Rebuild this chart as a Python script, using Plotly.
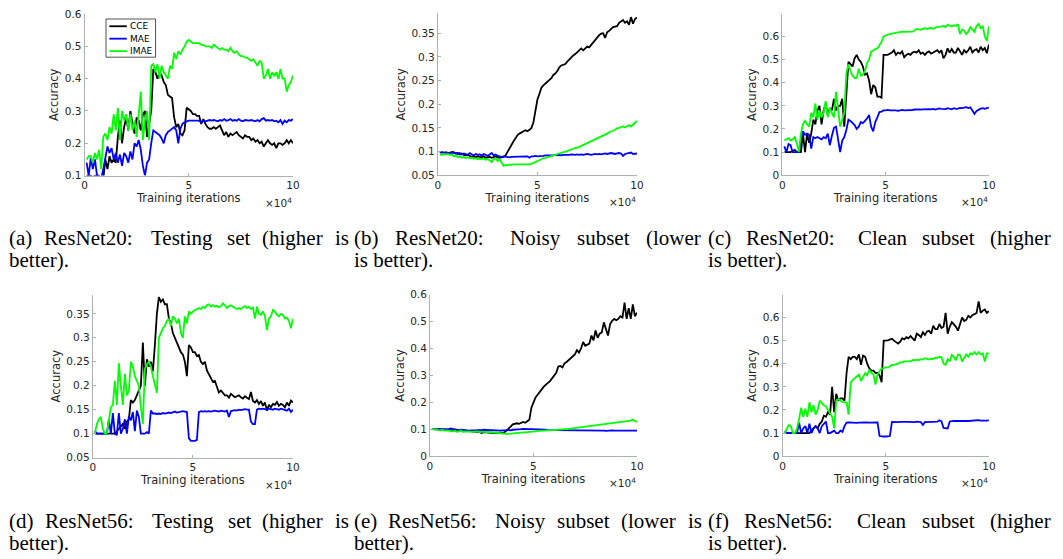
import plotly.graph_objects as go

# ---------------- data ----------------
# training iterations in units of 1e4, logged every 1000 iterations
ITERS = [i / 10 for i in range(1, 101)]

SERIES_NAMES = ["CCE", "MAE", "IMAE"]
SERIES_COLORS = ["#000000", "#0000ff", "#00ff00"]

# (a) ResNet20 testing set
A_CCE = [0.10, 0.10, 0.10, 0.095, 0.10, 0.10, 0.09, 0.08, 0.09, 0.15,
         0.12, 0.16, 0.14, 0.15, 0.14, 0.22, 0.27, 0.20, 0.25, 0.28,
         0.24, 0.30, 0.26, 0.23, 0.28, 0.27, 0.24, 0.29, 0.30, 0.22,
         0.26, 0.30, 0.43, 0.42, 0.40, 0.42, 0.41, 0.39, 0.38, 0.35,
         0.345, 0.34, 0.28, 0.25, 0.26, 0.23, 0.225, 0.24, 0.31, 0.305,
         0.30, 0.29, 0.29, 0.285, 0.285, 0.26, 0.275, 0.26, 0.25, 0.245,
         0.245, 0.25, 0.245, 0.25, 0.255, 0.24, 0.225, 0.235, 0.22, 0.23,
         0.225, 0.23, 0.235, 0.225, 0.22, 0.215, 0.225, 0.22, 0.22, 0.21,
         0.215, 0.205, 0.21, 0.20, 0.205, 0.19, 0.20, 0.21, 0.20, 0.195,
         0.20, 0.185, 0.20, 0.20, 0.195, 0.20, 0.21, 0.20, 0.21, 0.20]
A_MAE = [0.14, 0.10, 0.155, 0.12, 0.15, 0.10, 0.10, 0.09, 0.12, 0.16,
         0.19, 0.17, 0.185, 0.15, 0.17, 0.14, 0.165, 0.13, 0.17, 0.16,
         0.14, 0.175, 0.15, 0.20, 0.19, 0.21, 0.18, 0.13, 0.10, 0.14,
         0.15, 0.20, 0.24, 0.235, 0.23, 0.225, 0.215, 0.20, 0.225, 0.235,
         0.24, 0.245, 0.25, 0.24, 0.20, 0.245, 0.26, 0.265, 0.268, 0.27,
         0.27, 0.27, 0.268, 0.27, 0.27, 0.265, 0.27, 0.268, 0.27, 0.272,
         0.27, 0.272, 0.27, 0.268, 0.272, 0.27, 0.275, 0.27, 0.272, 0.275,
         0.27, 0.272, 0.27, 0.275, 0.27, 0.268, 0.272, 0.27, 0.27, 0.272,
         0.27, 0.268, 0.272, 0.268, 0.275, 0.278, 0.27, 0.272, 0.27, 0.272,
         0.268, 0.27, 0.265, 0.272, 0.26, 0.27, 0.265, 0.272, 0.27, 0.275]
A_IMAE = [0.15, 0.16, 0.16, 0.14, 0.17, 0.15, 0.18, 0.12, 0.22, 0.23,
          0.21, 0.25, 0.23, 0.29, 0.24, 0.31, 0.21, 0.30, 0.27, 0.29,
          0.24, 0.29, 0.24, 0.27, 0.22, 0.28, 0.36, 0.21, 0.27, 0.30,
          0.21, 0.44, 0.445, 0.42, 0.445, 0.40, 0.44, 0.42, 0.41, 0.40,
          0.44, 0.43, 0.48, 0.46, 0.485, 0.475, 0.49, 0.50, 0.515, 0.52,
          0.515, 0.51, 0.51, 0.51, 0.51, 0.505, 0.505, 0.50, 0.50, 0.50,
          0.495, 0.505, 0.50, 0.495, 0.49, 0.495, 0.49, 0.49, 0.485, 0.495,
          0.485, 0.48, 0.485, 0.475, 0.47, 0.47, 0.465, 0.465, 0.46, 0.455,
          0.46, 0.45, 0.44, 0.455, 0.45, 0.40, 0.41, 0.43, 0.40, 0.42,
          0.41, 0.42, 0.40, 0.43, 0.40, 0.40, 0.36, 0.38, 0.39, 0.41]

# (b) ResNet20 noisy subset
B_CCE = [0.099, 0.098, 0.098, 0.097, 0.098, 0.097, 0.099, 0.097, 0.096, 0.097,
         0.094, 0.096, 0.093, 0.092, 0.093, 0.091, 0.089, 0.090, 0.088, 0.090,
         0.089, 0.088, 0.090, 0.087, 0.088, 0.089, 0.087, 0.088, 0.090, 0.088,
         0.087, 0.088, 0.089, 0.092, 0.100, 0.106, 0.115, 0.122, 0.128, 0.135,
         0.138, 0.141, 0.143, 0.145, 0.143, 0.146, 0.150, 0.162, 0.19, 0.21,
         0.222, 0.235, 0.240, 0.244, 0.246, 0.250, 0.255, 0.262, 0.265, 0.270,
         0.278, 0.282, 0.284, 0.285, 0.290, 0.295, 0.298, 0.303, 0.306, 0.310,
         0.316, 0.318, 0.314, 0.318, 0.322, 0.320, 0.325, 0.330, 0.336, 0.342,
         0.346, 0.349, 0.350, 0.340, 0.352, 0.355, 0.360, 0.363, 0.364, 0.365,
         0.372, 0.376, 0.378, 0.372, 0.375, 0.368, 0.384, 0.370, 0.380, 0.383]
B_MAE = [0.098, 0.099, 0.098, 0.099, 0.097, 0.098, 0.097, 0.099, 0.096, 0.095,
         0.097, 0.094, 0.096, 0.095, 0.093, 0.097, 0.094, 0.092, 0.095, 0.093,
         0.094, 0.092, 0.095, 0.093, 0.091, 0.094, 0.097, 0.092, 0.094, 0.091,
         0.090, 0.089, 0.090, 0.089, 0.089, 0.088, 0.089, 0.089, 0.090, 0.089,
         0.089, 0.090, 0.089, 0.090, 0.090, 0.087, 0.090, 0.090, 0.091, 0.090,
         0.090, 0.091, 0.091, 0.092, 0.092, 0.091, 0.092, 0.092, 0.093, 0.092,
         0.093, 0.092, 0.093, 0.093, 0.092, 0.093, 0.094, 0.093, 0.093, 0.094,
         0.093, 0.094, 0.093, 0.094, 0.095, 0.094, 0.093, 0.094, 0.095, 0.094,
         0.095, 0.094, 0.095, 0.096, 0.095, 0.096, 0.097, 0.096, 0.095, 0.096,
         0.097, 0.096, 0.091, 0.095, 0.096, 0.097, 0.098, 0.095, 0.096, 0.096]
B_IMAE = [0.094, 0.093, 0.095, 0.094, 0.095, 0.093, 0.094, 0.090, 0.092, 0.088,
          0.090, 0.087, 0.089, 0.086, 0.088, 0.086, 0.087, 0.085, 0.086, 0.084,
          0.085, 0.084, 0.086, 0.083, 0.084, 0.082, 0.078, 0.084, 0.086, 0.080,
          0.084, 0.078, 0.070, 0.072, 0.071, 0.073, 0.072, 0.073, 0.073, 0.072,
          0.073, 0.072, 0.073, 0.072, 0.072, 0.073, 0.074, 0.076, 0.079, 0.081,
          0.083, 0.085, 0.086, 0.087, 0.088, 0.090, 0.091, 0.092, 0.093, 0.095,
          0.096, 0.098, 0.099, 0.100, 0.101, 0.103, 0.104, 0.106, 0.108, 0.108,
          0.110, 0.112, 0.113, 0.115, 0.117, 0.119, 0.121, 0.123, 0.125, 0.127,
          0.129, 0.131, 0.134, 0.136, 0.138, 0.141, 0.142, 0.144, 0.146, 0.149,
          0.150, 0.151, 0.153, 0.151, 0.154, 0.156, 0.153, 0.158, 0.161, 0.165]

# (c) ResNet20 clean subset
C_CCE = [0.10, 0.10, 0.10, 0.10, 0.105, 0.11, 0.10, 0.10, 0.10, 0.18,
         0.10, 0.18, 0.14, 0.18, 0.24, 0.22, 0.28, 0.30, 0.22, 0.28,
         0.31, 0.26, 0.29, 0.28, 0.33, 0.28, 0.30, 0.30, 0.33, 0.21,
         0.33, 0.49, 0.48, 0.47, 0.505, 0.52, 0.50, 0.49, 0.47, 0.435,
         0.44, 0.41, 0.35, 0.39, 0.38, 0.34, 0.34, 0.335, 0.52, 0.52,
         0.52, 0.525, 0.53, 0.54, 0.52, 0.53, 0.525, 0.535, 0.51, 0.52,
         0.525, 0.52, 0.53, 0.534, 0.53, 0.54, 0.525, 0.53, 0.52, 0.53,
         0.535, 0.525, 0.53, 0.535, 0.54, 0.53, 0.54, 0.505, 0.52, 0.548,
         0.53, 0.545, 0.53, 0.53, 0.55, 0.535, 0.52, 0.54, 0.53, 0.54,
         0.555, 0.53, 0.54, 0.545, 0.53, 0.555, 0.54, 0.55, 0.527, 0.565]
C_MAE = [0.125, 0.10, 0.135, 0.13, 0.10, 0.10, 0.10, 0.10, 0.15, 0.19,
         0.175, 0.18, 0.175, 0.115, 0.165, 0.16, 0.165, 0.16, 0.155, 0.165,
         0.16, 0.18, 0.13, 0.17, 0.205, 0.21, 0.15, 0.10, 0.15, 0.165,
         0.195, 0.24, 0.235, 0.225, 0.217, 0.20, 0.21, 0.23, 0.225, 0.235,
         0.245, 0.26, 0.21, 0.19, 0.23, 0.25, 0.273, 0.275, 0.28, 0.28,
         0.282, 0.28, 0.28, 0.282, 0.28, 0.278, 0.28, 0.282, 0.28, 0.28,
         0.282, 0.28, 0.282, 0.284, 0.283, 0.285, 0.284, 0.285, 0.286, 0.285,
         0.286, 0.285, 0.287, 0.284, 0.286, 0.289, 0.287, 0.285, 0.286, 0.29,
         0.287, 0.285, 0.29, 0.287, 0.288, 0.291, 0.29, 0.292, 0.294, 0.29,
         0.293, 0.28, 0.265, 0.278, 0.285, 0.288, 0.29, 0.287, 0.29, 0.292]
C_IMAE = [0.15, 0.155, 0.16, 0.15, 0.155, 0.165, 0.14, 0.10, 0.18, 0.22,
          0.235, 0.22, 0.21, 0.27, 0.25, 0.31, 0.24, 0.28, 0.25, 0.27,
          0.32, 0.25, 0.29, 0.27, 0.25, 0.36, 0.28, 0.21, 0.24, 0.27,
          0.44, 0.48, 0.45, 0.43, 0.42, 0.42, 0.46, 0.43, 0.435, 0.45,
          0.485, 0.50, 0.534, 0.54, 0.545, 0.548, 0.56, 0.576, 0.60, 0.604,
          0.607, 0.61, 0.612, 0.614, 0.616, 0.618, 0.618, 0.62, 0.619, 0.62,
          0.62, 0.622, 0.62, 0.625, 0.632, 0.63, 0.628, 0.632, 0.635, 0.632,
          0.635, 0.637, 0.632, 0.638, 0.64, 0.64, 0.643, 0.645, 0.64, 0.65,
          0.645, 0.643, 0.648, 0.645, 0.653, 0.61, 0.63, 0.625, 0.61, 0.62,
          0.64, 0.63, 0.62, 0.645, 0.653, 0.635, 0.645, 0.60, 0.58, 0.644]

# (d) ResNet56 testing set
D_CCE = [0.10, 0.10, 0.10, 0.10, 0.10, 0.10, 0.10, 0.10, 0.10, 0.10,
         0.10, 0.105, 0.11, 0.115, 0.12, 0.11, 0.125, 0.13, 0.17, 0.165,
         0.17, 0.18, 0.19, 0.20, 0.29, 0.20, 0.255, 0.24, 0.25, 0.23,
         0.285, 0.35, 0.385, 0.375, 0.38, 0.37, 0.37, 0.34, 0.33, 0.31,
         0.30, 0.29, 0.28, 0.27, 0.265, 0.25, 0.22, 0.285, 0.28, 0.27,
         0.27, 0.262, 0.264, 0.25, 0.245, 0.25, 0.232, 0.225, 0.218, 0.208,
         0.21, 0.20, 0.186, 0.19, 0.185, 0.18, 0.18, 0.175, 0.183, 0.18,
         0.176, 0.178, 0.18, 0.176, 0.173, 0.178, 0.175, 0.172, 0.187, 0.168,
         0.165, 0.17, 0.162, 0.168, 0.158, 0.165, 0.148, 0.16, 0.155, 0.162,
         0.16, 0.166, 0.158, 0.162, 0.16, 0.155, 0.165, 0.158, 0.169, 0.165]
D_MAE = [0.106, 0.10, 0.10, 0.10, 0.10, 0.10, 0.10, 0.13, 0.10, 0.143,
         0.10, 0.097, 0.143, 0.10, 0.11, 0.13, 0.10, 0.136, 0.128, 0.145,
         0.105, 0.148, 0.135, 0.10, 0.10, 0.10, 0.103, 0.10, 0.148, 0.142,
         0.142, 0.141, 0.142, 0.141, 0.143, 0.142, 0.143, 0.144, 0.143, 0.145,
         0.146, 0.144, 0.145, 0.146, 0.147, 0.146, 0.145, 0.09, 0.085, 0.085,
         0.085, 0.087, 0.145, 0.147, 0.146, 0.147, 0.146, 0.147, 0.146, 0.147,
         0.148, 0.147, 0.146, 0.148, 0.147, 0.146, 0.148, 0.135, 0.147, 0.148,
         0.149, 0.148, 0.15, 0.149, 0.15, 0.151, 0.15, 0.15, 0.125, 0.12,
         0.12, 0.15, 0.152, 0.151, 0.152, 0.151, 0.15, 0.152, 0.151, 0.15,
         0.152, 0.151, 0.15, 0.152, 0.151, 0.15, 0.148, 0.152, 0.145, 0.15]
D_IMAE = [0.10, 0.12, 0.13, 0.135, 0.11, 0.10, 0.10, 0.13, 0.155, 0.16,
          0.21, 0.16, 0.247, 0.20, 0.16, 0.225, 0.18, 0.19, 0.25, 0.24,
          0.22, 0.21, 0.20, 0.155, 0.12, 0.235, 0.245, 0.25, 0.24, 0.22,
          0.20, 0.185, 0.30, 0.31, 0.32, 0.325, 0.335, 0.34, 0.325, 0.345,
          0.34, 0.33, 0.34, 0.31, 0.30, 0.345, 0.33, 0.355, 0.35, 0.355,
          0.357, 0.36, 0.362, 0.36, 0.365, 0.362, 0.368, 0.37, 0.365, 0.368,
          0.365, 0.367, 0.364, 0.366, 0.372, 0.368, 0.362, 0.366, 0.368, 0.365,
          0.363, 0.36, 0.362, 0.36, 0.364, 0.366, 0.362, 0.365, 0.36, 0.363,
          0.34, 0.365, 0.35, 0.348, 0.355, 0.345, 0.316, 0.34, 0.345, 0.358,
          0.355, 0.348, 0.345, 0.35, 0.348, 0.34, 0.342, 0.335, 0.32, 0.34]

# (e) ResNet56 noisy subset
E_CCE = [0.10, 0.10, 0.099, 0.098, 0.10, 0.099, 0.098, 0.097, 0.098, 0.097,
         0.096, 0.097, 0.095, 0.096, 0.095, 0.094, 0.095, 0.093, 0.094, 0.092,
         0.091, 0.092, 0.090, 0.089, 0.086, 0.089, 0.088, 0.087, 0.088, 0.087,
         0.086, 0.087, 0.085, 0.087, 0.086, 0.088, 0.095, 0.10, 0.11, 0.118,
         0.12, 0.122, 0.12, 0.125, 0.127, 0.124, 0.13, 0.135, 0.18, 0.20,
         0.218, 0.228, 0.236, 0.248, 0.258, 0.267, 0.272, 0.279, 0.288, 0.297,
         0.31, 0.333, 0.335, 0.33, 0.345, 0.35, 0.358, 0.365, 0.37, 0.378,
         0.394, 0.385, 0.40, 0.424, 0.41, 0.415, 0.418, 0.448, 0.43, 0.467,
         0.44, 0.455, 0.46, 0.497, 0.47, 0.448, 0.49, 0.503, 0.51, 0.505,
         0.51, 0.52, 0.515, 0.57, 0.51, 0.55, 0.51, 0.564, 0.52, 0.533]
E_MAE = [0.10, 0.10, 0.099, 0.10, 0.099, 0.10, 0.099, 0.098, 0.10, 0.103,
         0.101, 0.10, 0.098, 0.097, 0.098, 0.097, 0.096, 0.097, 0.095, 0.096,
         0.095, 0.096, 0.097, 0.096, 0.097, 0.098, 0.097, 0.096, 0.097, 0.097,
         0.096, 0.095, 0.096, 0.095, 0.096, 0.095, 0.096, 0.097, 0.096, 0.098,
         0.098, 0.099, 0.10, 0.10, 0.101, 0.10, 0.101, 0.10, 0.10, 0.10,
         0.10, 0.099, 0.099, 0.098, 0.098, 0.098, 0.097, 0.098, 0.097, 0.097,
         0.097, 0.096, 0.097, 0.096, 0.097, 0.096, 0.096, 0.097, 0.096, 0.096,
         0.096, 0.095, 0.096, 0.095, 0.096, 0.095, 0.095, 0.096, 0.095, 0.095,
         0.095, 0.096, 0.095, 0.095, 0.094, 0.095, 0.095, 0.096, 0.095, 0.095,
         0.094, 0.095, 0.095, 0.094, 0.095, 0.095, 0.094, 0.095, 0.095, 0.095]
E_IMAE = [0.10, 0.10, 0.099, 0.097, 0.096, 0.098, 0.095, 0.096, 0.094, 0.093,
          0.092, 0.094, 0.090, 0.092, 0.095, 0.090, 0.092, 0.091, 0.092, 0.090,
          0.091, 0.090, 0.092, 0.089, 0.090, 0.091, 0.089, 0.090, 0.088, 0.089,
          0.087, 0.088, 0.086, 0.085, 0.083, 0.082, 0.083, 0.083, 0.084, 0.085,
          0.085, 0.086, 0.086, 0.087, 0.088, 0.088, 0.089, 0.090, 0.091, 0.093,
          0.093, 0.094, 0.094, 0.095, 0.095, 0.096, 0.096, 0.096, 0.097, 0.097,
          0.098, 0.097, 0.098, 0.099, 0.10, 0.10, 0.101, 0.102, 0.104, 0.105,
          0.106, 0.105, 0.107, 0.108, 0.11, 0.109, 0.111, 0.113, 0.112, 0.115,
          0.114, 0.116, 0.118, 0.117, 0.12, 0.121, 0.12, 0.122, 0.124, 0.125,
          0.124, 0.126, 0.127, 0.128, 0.13, 0.129, 0.132, 0.136, 0.13, 0.128]

# (f) ResNet56 clean subset
F_CCE = [0.10, 0.10, 0.10, 0.10, 0.10, 0.10, 0.10, 0.10, 0.10, 0.10,
         0.10, 0.10, 0.10, 0.11, 0.12, 0.13, 0.12, 0.14, 0.15, 0.175,
         0.17, 0.19, 0.18, 0.30, 0.19, 0.27, 0.24, 0.25, 0.25, 0.24,
         0.36, 0.43, 0.42, 0.43, 0.43, 0.42, 0.44, 0.395, 0.435, 0.43,
         0.40, 0.38, 0.37, 0.37, 0.36, 0.36, 0.35, 0.32, 0.50, 0.50,
         0.501, 0.505, 0.508, 0.50, 0.495, 0.487, 0.495, 0.51, 0.505, 0.515,
         0.51, 0.52, 0.51, 0.50, 0.53, 0.525, 0.515, 0.536, 0.525, 0.54,
         0.543, 0.53, 0.565, 0.55, 0.55, 0.572, 0.555, 0.56, 0.62, 0.53,
         0.56, 0.58, 0.57, 0.56, 0.543, 0.575, 0.60, 0.585, 0.59, 0.607,
         0.60, 0.61, 0.614, 0.62, 0.67, 0.62, 0.63, 0.635, 0.62, 0.628]
F_MAE = [0.108, 0.10, 0.10, 0.10, 0.10, 0.10, 0.10, 0.145, 0.10, 0.12,
         0.13, 0.10, 0.14, 0.10, 0.12, 0.13, 0.12, 0.10, 0.13, 0.14,
         0.15, 0.10, 0.10, 0.105, 0.11, 0.10, 0.10, 0.11, 0.105, 0.13,
         0.145, 0.146, 0.145, 0.146, 0.145, 0.144, 0.145, 0.146, 0.145, 0.146,
         0.146, 0.145, 0.146, 0.147, 0.146, 0.146, 0.087, 0.085, 0.085, 0.085,
         0.085, 0.087, 0.148, 0.147, 0.148, 0.147, 0.148, 0.147, 0.148, 0.148,
         0.148, 0.147, 0.148, 0.147, 0.149, 0.148, 0.147, 0.135, 0.148, 0.147,
         0.148, 0.149, 0.148, 0.15, 0.149, 0.155, 0.15, 0.122, 0.12, 0.12,
         0.15, 0.152, 0.153, 0.152, 0.154, 0.153, 0.152, 0.154, 0.153, 0.152,
         0.153, 0.152, 0.155, 0.153, 0.156, 0.154, 0.153, 0.155, 0.154, 0.155]
F_IMAE = [0.10, 0.12, 0.135, 0.13, 0.10, 0.10, 0.12, 0.162, 0.21, 0.17,
          0.205, 0.17, 0.233, 0.19, 0.22, 0.18, 0.20, 0.24, 0.23, 0.22,
          0.215, 0.20, 0.19, 0.17, 0.12, 0.24, 0.247, 0.24, 0.235, 0.233,
          0.233, 0.18, 0.318, 0.33, 0.339, 0.345, 0.353, 0.325, 0.34, 0.36,
          0.35, 0.374, 0.36, 0.355, 0.31, 0.353, 0.367, 0.38, 0.381, 0.385,
          0.383, 0.39, 0.395, 0.395, 0.398, 0.40, 0.407, 0.405, 0.41, 0.41,
          0.412, 0.41, 0.416, 0.415, 0.418, 0.415, 0.42, 0.418, 0.424, 0.42,
          0.418, 0.422, 0.42, 0.426, 0.425, 0.43, 0.428, 0.40, 0.395, 0.42,
          0.41, 0.438, 0.43, 0.415, 0.44, 0.438, 0.41, 0.425, 0.44, 0.43,
          0.445, 0.44, 0.45, 0.44, 0.45, 0.44, 0.445, 0.41, 0.445, 0.445]

X_TICKS = [0, 5, 10]
X_TICK_LABELS = ["0", "5", "10"]
Y_TICKS_A = [0.1, 0.2, 0.3, 0.4, 0.5, 0.6]
Y_TICKS_B = [0.05, 0.1, 0.15, 0.2, 0.25, 0.3, 0.35]
Y_TICKS_C = [0, 0.1, 0.2, 0.3, 0.4, 0.5, 0.6]

CAPTIONS = [
    ("(a) ResNet20: Testing set (higher is", "better)."),
    ("(b) ResNet20: Noisy subset (lower", "is better)."),
    ("(c) ResNet20: Clean subset (higher", "is better)."),
    ("(d) ResNet56: Testing set (higher is", "better)."),
    ("(e) ResNet56: Noisy subset (lower is", "better)."),
    ("(f) ResNet56: Clean subset (higher", "is better)."),
]

# ---------------- layout helpers ----------------
W, H = 1063, 559


def fx(p):
    return p / W


def fy(p):
    return 1 - p / H


# panel pixel boxes: left, right, top, bottom, y-range, y-ticks
PANELS = [
    dict(series=(A_CCE, A_MAE, A_IMAE), box=(82.3, 292.7, 8.3, 173.3), yr=(0.1, 0.6), yt=Y_TICKS_A),
    dict(series=(B_CCE, B_MAE, B_IMAE), box=(439, 640, 7.5, 173), yr=(0.05, 0.392), yt=Y_TICKS_B),
    dict(series=(C_CCE, C_MAE, C_IMAE), box=(786.7, 995.3, 8.3, 173), yr=(0, 0.696), yt=Y_TICKS_C),
    dict(series=(D_CCE, D_MAE, D_IMAE), box=(90.7, 292.7, 295, 461.5), yr=(0.05, 0.39), yt=Y_TICKS_B),
    dict(series=(E_CCE, E_MAE, E_IMAE), box=(431, 640, 295, 460), yr=(0, 0.6), yt=Y_TICKS_C),
    dict(series=(F_CCE, F_MAE, F_IMAE), box=(787, 995.3, 295, 460), yr=(0, 0.699), yt=Y_TICKS_C),
]

TICK_FONT = dict(family="DejaVu Sans", size=10.5, color="#262626")
LABEL_FONT = dict(family="DejaVu Sans", size=11.5, color="#262626")
AXIS_GREY = "#b0b0b0"


def fmt(v):
    s = ("%.2f" % v).rstrip("0").rstrip(".")
    return s if s else "0"


fig = go.Figure()
layout = dict(
    width=W, height=H, autosize=False,
    margin=dict(l=0, r=0, t=0, b=0),
    paper_bgcolor="white", plot_bgcolor="white",
    showlegend=False,
)
annotations = []
shapes = []

for i, p in enumerate(PANELS, start=1):
    xa = "x" if i == 1 else "x%d" % i
    ya = "y" if i == 1 else "y%d" % i
    for name, color, vals in zip(SERIES_NAMES, SERIES_COLORS, p["series"]):
        fig.add_trace(go.Scatter(
            x=ITERS, y=vals, mode="lines", name=name,
            line=dict(color=color, width=1.8),
            xaxis=xa, yaxis=ya, showlegend=False,
        ))
    l, r, t, b = p["box"]
    common = dict(
        showline=True, linecolor=AXIS_GREY, linewidth=1, mirror=False,
        showgrid=False, zeroline=False, ticks="inside", ticklen=3,
        tickcolor=AXIS_GREY, tickwidth=1, tickfont=TICK_FONT,
    )
    layout["xaxis" if i == 1 else "xaxis%d" % i] = dict(
        common, domain=[fx(l), fx(r)], range=[0, 10],
        anchor=ya, tickvals=X_TICKS, ticktext=X_TICK_LABELS,
        title=dict(text="Training iterations", font=LABEL_FONT, standoff=3),
    )
    layout["yaxis" if i == 1 else "yaxis%d" % i] = dict(
        common, domain=[fy(b), fy(t)], range=list(p["yr"]),
        anchor=xa, tickvals=p["yt"], ticktext=[fmt(v) for v in p["yt"]],
        title=dict(text="Accuracy", font=LABEL_FONT, standoff=3),
    )
    # x10^4 exponent label at the right end of the x axis
    annotations.append(dict(
        xref="paper", yref="paper", x=fx(r + 1), y=fy(b + 27),
        xanchor="right", yanchor="middle", showarrow=False,
        text="×10<sup>4</sup>", font=dict(family="DejaVu Sans", size=10.5, color="#262626"),
    ))

# legend box inside panel (a)
LEG_BOX = (104, 154, 13.3, 52.3)
shapes.append(dict(type="rect", xref="paper", yref="paper",
                   x0=fx(LEG_BOX[0]), x1=fx(LEG_BOX[1]), y0=fy(LEG_BOX[3]), y1=fy(LEG_BOX[2]),
                   line=dict(color="#262626", width=0.8), fillcolor="white", layer="above"))
for k, (name, color) in enumerate(zip(SERIES_NAMES, SERIES_COLORS)):
    yy = 20.7 + k * 12.7
    shapes.append(dict(type="line", xref="paper", yref="paper",
                       x0=fx(107.3), x1=fx(125), y0=fy(yy), y1=fy(yy),
                       line=dict(color=color, width=1.8), layer="above"))
    annotations.append(dict(xref="paper", yref="paper", x=fx(126.5), y=fy(yy),
                            xanchor="left", yanchor="middle", showarrow=False, text=name,
                            font=dict(family="DejaVu Sans", size=9, color="#000000")))

# ---------------- captions (justified like LaTeX subcaptions) ----------------
TIMES_W = {" ": 250, "(": 333, ")": 333, ":": 278, ".": 250,
           "a": 444, "b": 500, "c": 444, "d": 500, "e": 444, "f": 333, "g": 500,
           "h": 500, "i": 278, "l": 278, "n": 500, "o": 500, "r": 333, "s": 389,
           "t": 278, "u": 500, "w": 722, "y": 500, "R": 667, "N": 722, "T": 611,
           "C": 667}
CAP_SIZE = 21
CAP_FONT = dict(family="Liberation Serif", size=CAP_SIZE, color="#000000")
COLS = [(5, 351), (353, 707), (711, 1060)]
ROW_Y = [(237, 260), (526, 549)]


def word_w(wd):
    return sum(TIMES_W.get(c, 500) for c in wd) / 1000 * CAP_SIZE * 1.03 + 2


for idx, (line1, line2) in enumerate(CAPTIONS):
    c0, c1 = COLS[idx % 3]
    y1, y2 = ROW_Y[idx // 3]
    words = line1.split(" ")
    weights = [1.6 if w.endswith(":") else 1.0 for w in words[:-1]]
    free = (c1 - c0) - sum(word_w(w) for w in words)
    unit = max(free / sum(weights), 2)
    xpos = c0
    for j, wd in enumerate(words):
        annotations.append(dict(xref="paper", yref="paper", x=fx(xpos - 1), y=fy(y1),
                                xanchor="left", yanchor="middle", showarrow=False,
                                text=wd, font=CAP_FONT))
        if j < len(weights):
            xpos += word_w(wd) + unit * weights[j]
    annotations.append(dict(xref="paper", yref="paper", x=fx(c0 - 1), y=fy(y2),
                            xanchor="left", yanchor="middle", showarrow=False,
                            text=line2, font=CAP_FONT))

layout["annotations"] = annotations
layout["shapes"] = shapes
fig.update_layout(**layout)
# the page's default 8px body margin would shift the figure; remove it
fig.write_html(
    "out.html",
    config={"displayModeBar": False},
    post_script="document.body.style.margin='0px';document.body.style.overflow='hidden';",
)
